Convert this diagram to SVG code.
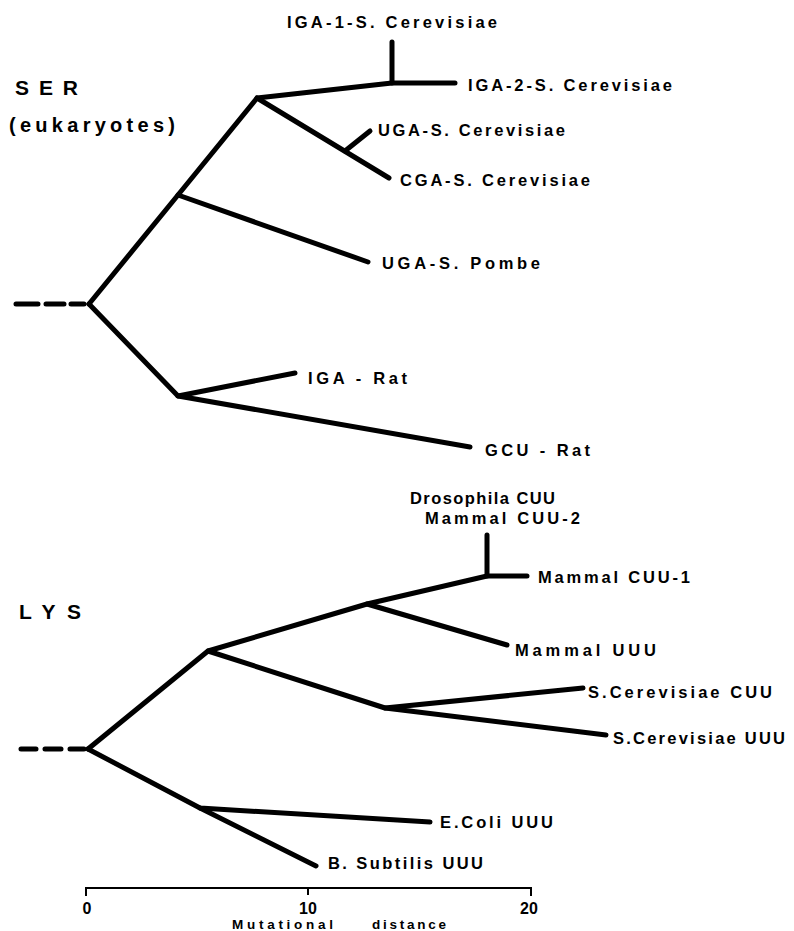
<svg xmlns="http://www.w3.org/2000/svg" width="794" height="931" viewBox="0 0 794 931">
  <style>
    .br { fill: none; stroke: #000; stroke-width: 5; stroke-linecap: round; stroke-linejoin: round; }
    .dash { fill: none; stroke: #000; stroke-width: 5; stroke-linecap: round; }
    .axis { fill: none; stroke: #000; stroke-width: 2; }
    text { font-family: "Liberation Sans", Arial, sans-serif; font-weight: bold; fill: #000; }
    .lbl { font-size: 16.5px; }
    .ttl { font-size: 21px; }
    .sub { font-size: 20px; }
    .tick { font-size: 16px; text-anchor: middle; }
    .cap { font-size: 13.5px; }
  </style>
  <rect width="794" height="931" fill="#fff"/>

  <g id="connectors">
    <!-- SER tree branches -->
    <g id="ser-branches">
      <path class="dash" d="M16 304H38M46 304H64M71 304H84"/>
      <path class="br" d="M89 304L178 195L257 98L392 83L455 83"/>
      <path class="br" d="M392 83V42"/>
      <path class="br" d="M257 98L389 178"/>
      <path class="br" d="M345 151L370 131"/>
      <path class="br" d="M178 195L368 262"/>
      <path class="br" d="M89 304L178 396L295 373"/>
      <path class="br" d="M178 396L470 447"/>
    </g>
    <!-- LYS tree branches -->
    <g id="lys-branches">
      <path class="dash" d="M21 749H36M45 749H61M70 749H84"/>
      <path class="br" d="M88 749L208 651L367 604L487 576L527 576"/>
      <path class="br" d="M487 576V535"/>
      <path class="br" d="M367 604L507 645"/>
      <path class="br" d="M208 651L385 708L583 688"/>
      <path class="br" d="M385 708L606 735"/>
      <path class="br" d="M88 749L200 808L430 822"/>
      <path class="br" d="M200 808L316 866"/>
    </g>
    <!-- distance scale -->
    <g id="scale">
      <path class="axis" d="M86 896V888H531V896M308 888V895"/>
    </g>
  </g>

  <g id="title-ser">
    <text class="ttl" x="15" y="95" textLength="63" lengthAdjust="spacing">SER</text>
    <text class="sub" x="9" y="132" textLength="166" lengthAdjust="spacing">(eukaryotes)</text>
  </g>
  <g id="title-lys">
    <text class="ttl" x="19" y="619" textLength="62" lengthAdjust="spacing">LYS</text>
  </g>

  <g id="leaf-iga1-scer"><text class="lbl" x="287" y="28" textLength="210" lengthAdjust="spacing">IGA-1-S. Cerevisiae</text></g>
  <g id="leaf-iga2-scer"><text class="lbl" x="468" y="91" textLength="204" lengthAdjust="spacing">IGA-2-S. Cerevisiae</text></g>
  <g id="leaf-uga-scer"><text class="lbl" x="378" y="136" textLength="187" lengthAdjust="spacing">UGA-S. Cerevisiae</text></g>
  <g id="leaf-cga-scer"><text class="lbl" x="400" y="186" textLength="190" lengthAdjust="spacing">CGA-S. Cerevisiae</text></g>
  <g id="leaf-uga-spombe"><text class="lbl" x="382" y="269" textLength="158" lengthAdjust="spacing">UGA-S. Pombe</text></g>
  <g id="leaf-iga-rat"><text class="lbl" x="308" y="384" textLength="99" lengthAdjust="spacing">IGA - Rat</text></g>
  <g id="leaf-gcu-rat"><text class="lbl" x="485" y="456" textLength="105" lengthAdjust="spacing">GCU - Rat</text></g>

  <g id="leaf-dros-mammal-cuu2">
    <text class="lbl" x="410" y="504" textLength="145" lengthAdjust="spacing">Drosophila CUU</text>
    <text class="lbl" x="425" y="524" textLength="155" lengthAdjust="spacing">Mammal CUU-2</text>
  </g>
  <g id="leaf-mammal-cuu1"><text class="lbl" x="538" y="583" textLength="152" lengthAdjust="spacing">Mammal CUU-1</text></g>
  <g id="leaf-mammal-uuu"><text class="lbl" x="515" y="656" textLength="141" lengthAdjust="spacing">Mammal UUU</text></g>
  <g id="leaf-scer-cuu"><text class="lbl" x="588" y="698" textLength="184" lengthAdjust="spacing">S.Cerevisiae CUU</text></g>
  <g id="leaf-scer-uuu"><text class="lbl" x="613" y="744" textLength="172" lengthAdjust="spacing">S.Cerevisiae UUU</text></g>
  <g id="leaf-ecoli-uuu"><text class="lbl" x="440" y="828" textLength="113" lengthAdjust="spacing">E.Coli UUU</text></g>
  <g id="leaf-bsub-uuu"><text class="lbl" x="328" y="869" textLength="155" lengthAdjust="spacing">B. Subtilis UUU</text></g>

  <g id="scale-labels">
    <text class="tick" x="87" y="914">0</text>
    <text class="tick" x="308" y="914">10</text>
    <text class="tick" x="529" y="914">20</text>
    <text class="cap" x="232" y="929" textLength="101" lengthAdjust="spacing">Mutational</text>
    <text class="cap" x="372" y="929" textLength="74" lengthAdjust="spacing">distance</text>
  </g>
</svg>
